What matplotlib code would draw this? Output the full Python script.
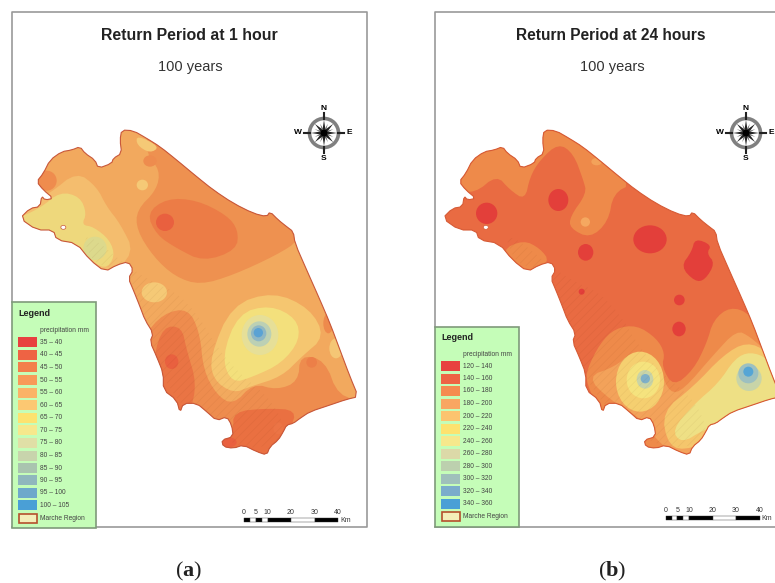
import matplotlib
matplotlib.use('Agg')
import matplotlib.pyplot as plt
import numpy as np
from matplotlib.patches import Polygon, Ellipse, Rectangle, Circle

plt.rcParams['font.family'] = ['Liberation Sans', 'DejaVu Sans']
plt.rcParams['hatch.linewidth'] = 0.5
plt.rcParams['mathtext.fontset'] = 'custom'
plt.rcParams['mathtext.bf'] = 'Liberation Serif:bold'
plt.rcParams['mathtext.rm'] = 'Liberation Serif'

# map shapes at 3x (x, y in zoomed pixels)
outline = [(365,60),(400,62),(440,85),(480,110),(530,150),(590,200),(640,240),(700,280),(760,310),(800,320),
           (810,305),(835,330),(860,350),(880,365),(885,400),(920,480),(960,570),(990,640),(1020,720),(1050,800),
           (1075,860),(1040,868),(990,885),(930,905),(900,925),(880,940),(860,945),(850,965),(835,990),(810,1010),
           (800,1035),(770,1025),(730,1005),(700,1015),(670,1010),(665,990),(700,980),(695,945),(680,920),(650,932),
           (620,905),(590,880),(550,880),(540,908),(530,870),(490,840),(490,790),(470,740),(450,695),(460,670),
           (435,630),(420,590),(400,540),(385,505),(400,480),(385,455),(350,465),(315,485),(270,450),(230,400),
           (170,390),(160,360),(110,360),(60,325),(90,295),(120,290),(125,258),(135,270),(160,265),(130,240),
           (110,215),(130,190),(150,150),(185,125),(215,120),(240,110),(255,130),(285,150),(295,175),(335,160),
           (340,145),(365,130),(360,90)]
ridges = [(240,350),(420,500),(560,560),(680,760),(830,880),(860,1000),(700,1020),(500,850),(430,620),(380,470),(280,470)]

zones_a = [
    ('#ee9150', [(440,135),(480,180),(470,240),(410,300),(410,360),(460,440),(525,500),(600,525),(700,495),(830,435),
                 (900,390),(900,320),(760,250),(600,150),(500,70),(440,50)]),
    ('#ec7c46', [(440,310),(500,265),(590,270),(680,315),(715,360),(710,420),(610,455),(530,415),(470,375)]),
    ('#f5c976', [(410,75),(480,110),(450,130),(410,105)]),
    ('#f4bd6e', [(150,250),(230,185),(290,230),(320,290),(360,340),(405,430),(320,500),(240,440),(100,380),(30,320)]),
    ('#eed87c', [(40,330),(120,295),(180,245),(240,260),(260,310),(245,345),(280,350),(330,390),(345,440),(315,480),
                 (260,440),(230,405),(170,400),(100,370)]),
    ('#ee8c4e', [(490,610),(565,595),(600,670),(610,780),(650,855),(700,885),(760,820),(830,840),(895,815),(900,735),
                 (975,750),(1015,860),(1100,870),(900,1070),(640,1050),(470,860),(450,740),(430,680)]),
    ('#ea7444', [(490,650),(545,650),(560,720),(590,820),(570,910),(520,900),(470,850),(460,740)]),
    ('#ea7041', [(700,905),(800,895),(890,900),(870,960),(810,1050),(650,1030),(650,980),(700,965)]),
    ('#f5c670', [(630,740),(695,585),(820,545),(930,595),(975,680),(905,740),(845,800),(750,830),(700,850),(640,810)]),
    ('#f3e07c', [(665,740),(715,610),(810,585),(890,625),(900,690),(845,760),(760,800),(695,820)]),
]
spots_a = [
    ('#ef8c4e', 140, 212, 30, 30), ('#ee8c4e', 450, 153, 20, 17), ('#f5c976', 427, 225, 17, 16),
    ('#e9603f', 495, 337, 27, 26), ('#f5c976', 463, 547, 38, 30), ('#e9603f', 515, 755, 20, 22),
    ('#ec7f48', 935, 757, 16, 16), ('#ee8a4c', 985, 640, 15, 30), ('#e9603f', 685, 997, 25, 15),
    ('#ec7445', 835, 955, 15, 18), ('#f5c675', 1008, 715, 20, 30), ('#dcd98c', 285, 415, 35, 35),
    ('#e6df98', 780, 675, 55, 60), ('#bcd0b4', 778, 672, 36, 38), ('#8fb7c4', 776, 670, 23, 24),
    ('#5aa2d4', 775, 668, 14, 14),
]

zones_b = [
    ('#ee8a4a', [(345,40),(400,50),(440,65),(610,220),(550,250),(535,335),(480,385),(420,355),(420,320),(470,250),
                 (460,210),(430,130),(385,100),(330,150),(300,200),(285,270),(240,240),(200,195),(135,250),(70,240),
                 (90,170),(170,90),(240,90),(280,140),(330,120),(320,40)]),
    ('#ee8a4a', [(215,420),(280,390),(330,415),(360,455),(300,500),(250,480)]),
    ('#e33f3a', [(795,385),(845,405),(830,430),(855,460),(825,510),(795,515),(752,470),(785,425)]),
    ('#ee8a4a', [(510,700),(555,655),(620,645),(680,685),(705,730),(695,770),(730,830),(790,780),(830,700),(850,630),
                 (900,590),(960,610),(1010,700),(1070,840),(1070,1010),(700,1060),(630,1010),(510,910),(470,820),(470,780)]),
    ('#f3a25a', [(470,800),(555,770),(600,730),(650,730),(690,780),(720,850),(760,840),(850,735),(920,660),(960,680),
                 (1010,725),(1070,850),(1070,1010),(760,1060),(670,980),(640,930),(540,870)]),
    ('#f5c66c', [(695,905),(790,830),(880,735),(950,695),(1015,725),(1070,880),(900,960),(780,1020),(715,1010)]),
    ('#eee085', [(725,960),(795,880),(865,820),(915,745),(960,725),(1015,745),(1070,825),(1070,890),(950,900),(880,940),
                 (820,960),(755,1000)]),
]
spots_b = [
    ('#f5a860', 466, 336, 14, 14), ('#f3a25a', 500, 155, 16, 11),
    ('#e33f3a', 170, 310, 32, 32), ('#e33f3a', 385, 270, 30, 33), ('#e33f3a', 660, 388, 50, 42),
    ('#e33f3a', 467, 427, 23, 25), ('#e33f3a', 455, 545, 9, 9), ('#e33f3a', 748, 570, 16, 16),
    ('#e33f3a', 747, 657, 20, 22),
    ('#f5cf70', 630, 815, 72, 90), ('#f5e37e', 640, 810, 50, 55), ('#c8d4a8', 645, 808, 25, 28),
    ('#7fb0c8', 646, 806, 14, 14),
    ('#c8d4a8', 957, 805, 38, 38), ('#9dc0c0', 955, 790, 30, 30), ('#55a5d5', 955, 785, 15, 15),
]

labels_a = ['35 – 40','40 – 45','45 – 50','50 – 55','55 – 60','60 – 65','65 – 70','70 – 75','75 – 80',
            '80 – 85','85 – 90','90 – 95','95 – 100','100 – 105']
colors_a = ['#e8413f','#ee6344','#f37f4b','#f89a58','#fbb367','#fcc872','#fde26f','#f6e88c','#e0dfa6',
            '#c8d4ac','#a9c4af','#8fb7bd','#6ea9cb','#4a9fd6']
labels_b = ['120 – 140','140 – 160','160 – 180','180 – 200','200 – 220','220 – 240','240 – 260','260 – 280',
            '280 – 300','300 – 320','320 – 340','340 – 360']
colors_b = ['#e8413f','#ee6344','#f58b50','#f9a662','#fcc46f','#fde26f','#f6e88c','#dcd9a8','#bcd0ae','#9fc0bb',
            '#7baccb','#4a9fd6']
scale_km = [0, 5, 10, 20, 30, 40]

fig = plt.figure(figsize=(7.75, 5.83), dpi=100)
ax = fig.add_axes([0, 0, 1, 1])
ax.set_xlim(0, 775)
ax.set_ylim(583, 0)
ax.axis('off')


def smooth(pts, n=2):
    # corner cutting so the zone edges look like contours
    p = np.array(pts, dtype=float)
    for i in range(n):
        q = np.roll(p, -1, axis=0)
        p = np.column_stack([0.75*p + 0.25*q, 0.25*p + 0.75*q]).reshape(-1, 2)
    return p


def draw_map(zones, spots, dx, shift, base, edge):
    to_px = lambda p: np.array(p, dtype=float)/3.0 + [dx, 110]
    coast = smooth(outline, 1)/3.0 + [shift, 110]
    clip = Polygon(coast, closed=True, fc=base, ec='none', zorder=1)
    ax.add_patch(clip)
    for col, pts in zones:
        z = Polygon(to_px(smooth(pts)), closed=True, fc=col, ec='none', zorder=2)
        ax.add_patch(z)
        z.set_clip_path(clip)
    for col, x, y, rx, ry in spots:
        c = to_px([(x, y)])[0]
        e = Ellipse(c, 2*rx/3.0, 2*ry/3.0, fc=col, ec='none', zorder=3)
        ax.add_patch(e)
        e.set_clip_path(clip)
    # hillshade on the mountain side
    h = Polygon(smooth(ridges)/3.0 + [shift, 110], closed=True, fc='none',
                ec=(0.35, 0.12, 0.0, 0.06), lw=0, hatch='////', zorder=4)
    ax.add_patch(h)
    h.set_clip_path(clip)
    # hole and outline
    ax.add_patch(Ellipse((190/3.0 + shift, 352/3.0 + 110), 5, 4, fc='white', ec=edge, lw=0.5, zorder=4))
    ax.add_patch(Polygon(coast, closed=True, fc='none', ec=edge, lw=0.8, zorder=4))


def draw_compass(cx, cy):
    ax.add_patch(Circle((cx, cy), 14.5, fc='white', ec='#808080', lw=2.6, zorder=5))
    for k in range(16):
        a = k*np.pi/8
        r = 13 if k % 2 == 0 else 10
        t = np.array([cx + r*np.sin(a), cy - r*np.cos(a)])
        n = np.array([np.cos(a), np.sin(a)])*(2.0 if k % 2 == 0 else 1.2)
        c = np.array([cx, cy])
        col = '#222222' if k % 2 == 0 else '#666666'
        ax.add_patch(Polygon([c + n, t, c - n], closed=True, fc=col, ec='none', zorder=6))
    ax.add_patch(Circle((cx, cy), 3.5, fc='black', ec='none', zorder=7))
    for a in range(4):
        ang = a*np.pi/2
        ax.plot([cx + 14*np.sin(ang), cx + 20*np.sin(ang)], [cy - 14*np.cos(ang), cy - 20*np.cos(ang)],
                color='#222222', lw=1.5, zorder=6)
    ax.text(cx, cy-25, 'N', fontsize=6, fontweight='bold', ha='center', va='center')
    ax.text(cx, cy+25, 'S', fontsize=6, fontweight='bold', ha='center', va='center')
    ax.text(cx-26, cy, 'W', fontsize=6, fontweight='bold', ha='center', va='center')
    ax.text(cx+25, cy, 'E', fontsize=6, fontweight='bold', ha='center', va='center')


def draw_scale(x0, y):
    xs = [x0 + v*94/40.0 for v in scale_km]
    edges = [xs[0], xs[0]+6, xs[1], xs[1]+6, xs[2], xs[3], xs[4], xs[5]]
    for i in range(len(edges)-1):
        col = 'black' if i % 2 == 0 else 'white'
        ax.add_patch(Rectangle((edges[i], y-2), edges[i+1]-edges[i], 4, fc=col, ec='#333333', lw=0.3, zorder=5))
    for x, v in zip(xs, scale_km):
        ax.text(x, y-8, str(v), fontsize=5, color='#333333', ha='center', va='center')
    ax.text(xs[-1]+2, y, 'Km', fontsize=5, color='#333333', ha='left', va='center')


def draw_legend(x0, y0, y1, labels, colors, ys, y_title, y_sub, y_reg):
    ax.add_patch(Rectangle((x0, y0), 84, y1-y0, fc='#c5fdb8', ec='#7f9a7a', lw=1.2, zorder=8))
    ax.text(x0+6, y_title, 'Legend', fontsize=6.5, fontweight='bold', color='#222222', va='center', zorder=9)
    ax.text(x0+28, y_sub, 'precipitation mm', fontsize=4.8, color='#444444', va='center', zorder=9)
    for lab, col, y in zip(labels, colors, ys):
        ax.add_patch(Rectangle((x0+6, y-5), 19, 10, fc=col, ec='none', zorder=9))
        ax.text(x0+28, y, lab, fontsize=4.8, color='#444444', va='center', zorder=9)
    ax.add_patch(Rectangle((x0+7, y_reg-4.5), 18, 9, fc='#f4eeb8', ec='#b5502c', lw=1.2, zorder=9))
    ax.text(x0+28, y_reg, 'Marche Region', fontsize=4.8, color='#444444', va='center', zorder=9)


# panel frames
ax.plot([12, 12, 367, 367, 12], [302, 12, 12, 527, 527], color='#999999', lw=1.2, zorder=0)
ax.plot([435, 435, 775], [327, 12, 12], color='#999999', lw=1.2, zorder=0)
ax.plot([435, 775], [527, 527], color='#999999', lw=1.2, zorder=0)

draw_map(zones_a, spots_a, 0, 0, '#f2a95e', '#c8573a')
draw_map(zones_b, spots_b, 430, 422.5, '#e96b42', '#d65a35')

ax.text(189, 35, 'Return Period at 1 hour', fontsize=11.4, fontweight='bold', color='#222222', ha='center', va='center')
ax.text(190, 67.5, '100 years', fontsize=10.5, color='#333333', ha='center', va='center')
ax.text(611, 35, 'Return Period at 24 hours', fontsize=11.2, fontweight='bold', color='#222222', ha='center', va='center')
ax.text(612, 67.5, '100 years', fontsize=10.5, color='#333333', ha='center', va='center')

draw_compass(324, 133)
draw_compass(746, 133)
draw_scale(244, 520)
draw_scale(665.5, 518)

ys_a = [342, 354.7, 367.3, 380, 392.7, 405.3, 417.7, 430.3, 443, 455.7, 468, 480.3, 493, 505.3]
ys_b = [366, 378.7, 391, 403.7, 416.3, 428.7, 441.3, 453.7, 466.3, 478.7, 491.3, 503.7]
draw_legend(12, 302, 528, labels_a, colors_a, ys_a, 314, 330, 518.3)
draw_legend(435, 327, 527, labels_b, colors_b, ys_b, 338, 354, 516.3)

ax.text(189, 571, r'($\mathbf{a}$)', fontsize=16, family='Liberation Serif', ha='center', va='center', color='#222222')
ax.text(612, 571, r'($\mathbf{b}$)', fontsize=16, family='Liberation Serif', ha='center', va='center', color='#222222')

fig.savefig('out.png', dpi=100)
